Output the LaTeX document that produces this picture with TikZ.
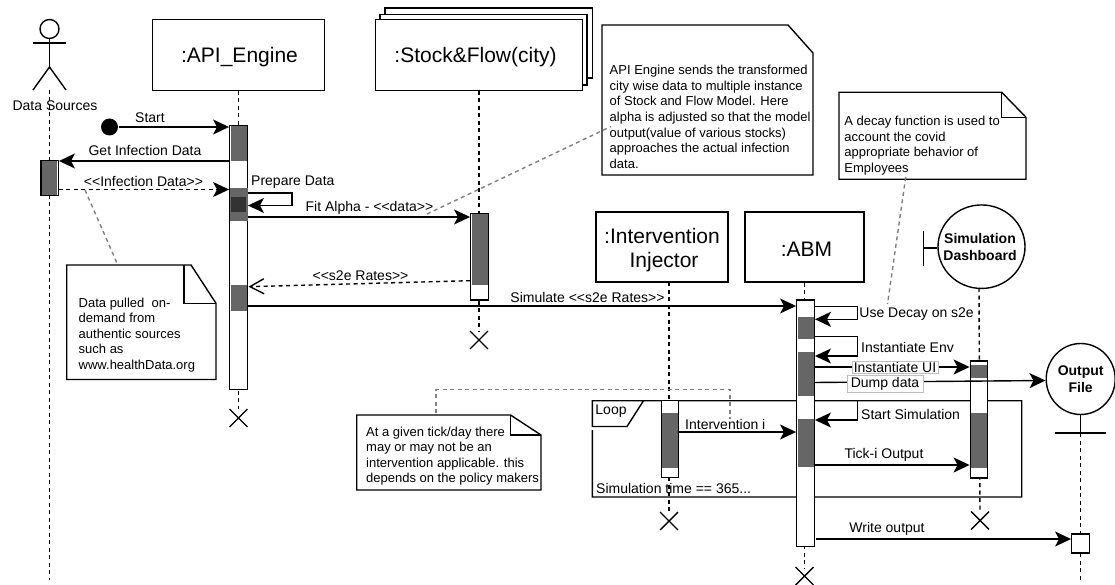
\documentclass[tikz,border=0pt]{standalone}
\usepackage{fontspec}
\setmainfont{Liberation Sans}
\usetikzlibrary{arrows.meta,shapes.misc,shapes.geometric}
\begin{document}
\begin{tikzpicture}[x=1, y=-1, line width=1.4,
        headbox/.style={draw, fill=white, inner sep=0},
        headtext/.style={inner sep=0, align=center, font=\fontsize{21}{24}\selectfont},
        actbar/.style={draw, fill=white, inner sep=0, minimum width=17.5},
        band/.style={fill=black!60},
        endmark/.style={draw, cross out, inner sep=0, minimum size=16.5},
        lifeline/.style={dash pattern=on 4 off 3.5},
        msg/.style={-{Stealth[length=16, width=15, inset=4]}},
        reply/.style={msg, dash pattern=on 4 off 3.5},
        openmsg/.style={-{Straight Barb[length=14, width=15]}, dash pattern=on 4 off 3.5},
        link/.style={draw=black!50, dash pattern=on 4 off 3.5},
        lbl/.style={inner sep=0, font=\fontsize{14}{16}\selectfont},
        tag/.style={lbl, draw=black!25, line width=.5, fill=white, inner xsep=1.5, inner ysep=1},
        notetext/.style={inner sep=0, anchor=north west, align=left, font=\fontsize{13}{15.6}\selectfont},
        control/.style={draw, ellipse, inner sep=0},
        controltext/.style={inner sep=0, align=center, font=\fontsize{14}{17}\selectfont\bfseries}]
    \useasboundingbox (0, 0) rectangle (1115, 585);

    \coordinate (actorhip) at (49.5, 67);
    \coordinate (dsend) at (49.5, 580);
    \draw [lifeline] (actorhip |- 0, 90) -- (dsend);
    \node [draw, circle, inner sep=0, minimum size=19] (actorhead) at (49.5, 29) {};
    \draw (actorhead) -- (actorhip);
    \draw (33, 43) -- (66, 43);
    \draw (33, 90) -- (actorhip) -- (66, 90);
    \node [lbl] (dslabel) at (55, 105.5) {Data Sources};

    \draw (385, 8) rectangle (592.5, 78);
    \draw [fill=white] (380, 14.5) rectangle (587, 85);
    \node [headbox, minimum width=172, minimum height=70.5] (apibox) at (238.5, 55) {};
    \node [headtext] (apititle) at (239.5, 57.5) {:API\_Engine};
    \node [headbox, minimum width=207, minimum height=70.5] (stockbox) at (479, 55) {};
    \node [headtext] (stocktitle) at (475.5, 57) {:Stock\&Flow(city)};
    \node [headbox, minimum width=132, minimum height=70] (injectbox) at (662, 247) {};
    \node [headtext] (injecttitle) at (662, 250.5) {:Intervention\hspace{9pt}\\ \hspace{4pt}Injector};
    \node [headbox, minimum width=119, minimum height=70] (abmbox) at (804.5, 247) {};
    \node [headtext] (abmtitle) at (806.5, 249) {:ABM};
    \node [control, minimum width=87, minimum height=83.5] (dashboard) at (981.5, 246.7) {};
    \node [controltext] (dashtitle) at (980, 246.7) {Simulation\\Dashboard};
    \draw (923.5, 231.5) -- (923.5, 266);
    \draw (923.5, 248) -- (dashboard.west |- 0, 248);
    \node [control, minimum width=69, minimum height=71] (outfile) at (1080.7, 379) {};
    \node [controltext] (filetitle) at (1080.7, 379) {Output\\File};
    \draw (outfile.south) -- (1080.7, 433);
    \draw (1055, 433) -- (1105.7, 433);

    \node [endmark] (apiend) at (238.5, 418) {};
    \node [endmark] (stockend) at (479, 340) {};
    \node [endmark] (injectend) at (669, 521) {};
    \node [endmark] (abmend) at (804.5, 576) {};
    \node [endmark] (dashend) at (980, 520.5) {};
    \coordinate (injectstart) at (669, 282);
    \coordinate (dashstart) at (979, 288);
    \coordinate (filestart) at (1080.7, 433);
    \coordinate (fileend) at (1080.7, 581);
    \coordinate (abmlow) at (804.5, 568);
    \draw [lifeline] (apibox) -- (apiend);
    \draw [lifeline] (stockbox) -- (stockend);
    \draw [lifeline] (injectstart) -- (injectend);
    \draw [lifeline] (abmbox) -- (abmlow);
    \draw [lifeline] (dashstart) -- (dashend);
    \draw [lifeline] (filestart) -- (fileend);

    \draw (592.3, 430) -- (592.3, 497) -- (1021.7, 497) -- (1021.7, 400.7) -- (592.3, 400.7) -- (592.3, 426.5)
        -- (627, 426.5) -- (643.5, 400.7);
    \node [lbl] (looplabel) at (611, 411) {Loop};
    \node [lbl, anchor=west] (looptime) at (595.5, 488) {Simulation time == 365...};

    \node [actbar, minimum height=35] (dsbar) at (49.5, 178) {};
    \fill [band] (42, 161) rectangle (57, 195);
    \draw (41, 160.5) rectangle (58.5, 195.5);
    \node [actbar, minimum height=264] (apibar) at (238.5, 257.5) {};
    \fill [band] (231, 126) rectangle (246.5, 161);
    \fill [band] (230, 188) rectangle (247.5, 221);
    \fill [black!80] (231, 197) rectangle (246, 212);
    \fill [band] (231, 285) rectangle (246.5, 311);
    \node [actbar, minimum height=86.5] (stockbar) at (479.5, 256.7) {};
    \fill [band] (472, 214) rectangle (487.5, 285);
    \node [actbar, minimum height=77] (injectbar) at (670, 439.2) {};
    \fill [band] (662, 413) rectangle (678, 467.7);
    \node [actbar, minimum height=246.7] (abmbar) at (805.5, 423.3) {};
    \fill [band] (797.5, 316.7) rectangle (813.5, 339.3);
    \fill [band] (797.5, 352) rectangle (813.5, 396);
    \fill [band] (797.5, 419.3) rectangle (813.5, 466.7);
    \node [actbar, minimum height=117] (dashbar) at (979, 419.5) {};
    \fill [band] (971, 365) rectangle (987, 378);
    \fill [band] (971, 413.3) rectangle (987, 468);
    \node [draw, fill=white, inner sep=0, minimum width=17.5, minimum height=19] (filebar) at (1080.5, 543.5) {};

    \node [circle, fill, inner sep=0, minimum size=17] (startdot) at (109.5, 127) {};
    \draw [msg] (startdot) -- (startdot -| apibar.west);
    \node [lbl] (startlabel) at (150, 118) {Start};
    \draw [msg] (apibar.west |- 0, 161) -- (dsbar.east |- 0, 161);
    \node [lbl] (getlabel) at (145, 150) {Get Infection Data};
    \draw [reply] (dsbar.east |- 0, 189.5) -- (apibar.west |- 0, 189.5);
    \node [lbl] (inflabel) at (143.5, 181) {<{}<Infection Data>{}>};

    \draw [msg] (apibar.east |- 0, 193) -- (292, 193) -- (292, 205.5) -- (apibar.east |- 0, 205.5);
    \node [lbl, anchor=west] (preplabel) at (250.5, 182) {Prepare Data};
    \draw [msg] (apibar.east |- 0, 217) -- (stockbar.west |- 0, 217);
    \node [lbl] (fitlabel) at (369.5, 207.5) {Fit Alpha - <{}<data>{}>};
    \coordinate (s2etail) at (471, 280.7);
    \coordinate (s2etip) at (248.5, 286.7);
    \draw [openmsg] (stockbar.west |- s2etail) -- (s2etip);
    \node [lbl] (s2elabel) at (360.5, 276) {<{}<s2e Rates>{}>};
    \draw [msg] (apibar.east |- 0, 306) -- (abmbar.west |- 0, 306);
    \node [lbl] (simlabel) at (587.5, 297.5) {Simulate <{}<s2e Rates>{}>};

    \draw [msg] (abmbar.east |- 0, 306.7) -- (857.7, 306.7) -- (857.7, 319.3) -- (abmbar.east |- 0, 319.3);
    \node [lbl, anchor=west] (decaylabel) at (858.7, 314) {Use Decay on s2e};
    \draw [msg] (abmbar.east |- 0, 336.5) -- (857.7, 336.5) -- (857.7, 356) -- (abmbar.east |- 0, 356);
    \node [lbl, anchor=west] (envlabel) at (860.5, 347.5) {Instantiate Env};
    \draw [msg] (abmbar.east |- 0, 367) -- (dashbar.west |- 0, 367);
    \node [tag] (uilabel) at (895, 367.3) {Instantiate UI};
    \coordinate (dumptail) at (814.3, 382.5);
    \draw [msg] (dumptail) -- (outfile.west |- 0, 380.5);
    \node [tag, inner xsep=4, inner ysep=2] (dumplabel) at (885, 383.5) {Dump data};
    \draw [msg] (857.7, 400.7) -- (857.7, 420) -- (abmbar.east |- 0, 420);
    \node [lbl, anchor=west] (simstart) at (860.5, 414.5) {Start Simulation};
    \draw [msg] (injectbar.east |- 0, 432) -- (abmbar.west |- 0, 432);
    \node [lbl, anchor=west] (interlabel) at (684.5, 424) {Intervention i};
    \draw [msg] (abmbar.east |- 0, 465) -- (dashbar.west |- 0, 465);
    \node [lbl] (ticklabel) at (884, 455) {Tick-i Output};
    \draw [msg] (816, 539) -- (filebar.west |- 0, 539);
    \node [lbl] (writelabel) at (887, 529) {Write output};

    \draw (66.7, 265) -- (191, 265) -- (216, 303.3) -- (216, 379.5) -- (66.7, 379.5) -- cycle;
    \draw (184, 265) -- (184, 303.3) -- (216, 303.3);
    \node [notetext] (datanote) at (78, 297) {Data pulled \ on-\\demand from\\authentic sources\\such as\\www.healthData.org};
    \coordinate (dataanchor) at (85, 190);
    \coordinate (datatop) at (117, 263);
    \draw [link] (dataanchor) -- (datatop);

    \draw (602, 25) -- (788, 25) -- (813, 53) -- (813, 175) -- (602, 175) -- cycle;
    \node [notetext] (fitnote) at (609, 64.5) {API Engine sends the transformed\\city wise data to multiple instance\\of Stock and Flow Model. Here\\alpha is adjusted so that the model\\output(value of various stocks)\\approaches the actual infection\\data.};
    \coordinate (fitanchor) at (427, 214);
    \coordinate (fitside) at (611, 126.5);
    \draw [link] (fitanchor) -- (fitside);

    \draw (839, 92.3) -- (1001.7, 92.3) -- (1026, 117.3) -- (1026, 179.3) -- (839, 179.3) -- cycle;
    \draw (1001.7, 92.3) -- (1001.7, 117.3) -- (1026, 117.3);
    \node [notetext] (decaynote) at (843.7, 115.5) {A decay function is used to\\account the covid\\appropriate behavior of\\Employees};
    \coordinate (decaybottom) at (905.7, 177);
    \coordinate (decayanchor) at (887.5, 304);
    \draw [link] (decaybottom) -- (decayanchor);

    \draw (356.7, 415) -- (510.5, 415) -- (541, 435) -- (541, 490) -- (356.7, 490) -- cycle;
    \draw (510.5, 415) -- (510.5, 435) -- (541, 435);
    \node [notetext] (ticknote) at (365.5, 426) {At a given tick/day there\\may or may not be an\\intervention applicable. this\\depends on the policy makers};
    \coordinate (ticktop) at (436, 413);
    \coordinate (tickelbow) at (436, 389.5);
    \coordinate (tickright) at (730, 389.5);
    \coordinate (tickanchor) at (730, 419);
    \draw [link] (ticktop) -- (tickelbow) -- (tickright) -- (tickanchor);
\end{tikzpicture}
\end{document}
